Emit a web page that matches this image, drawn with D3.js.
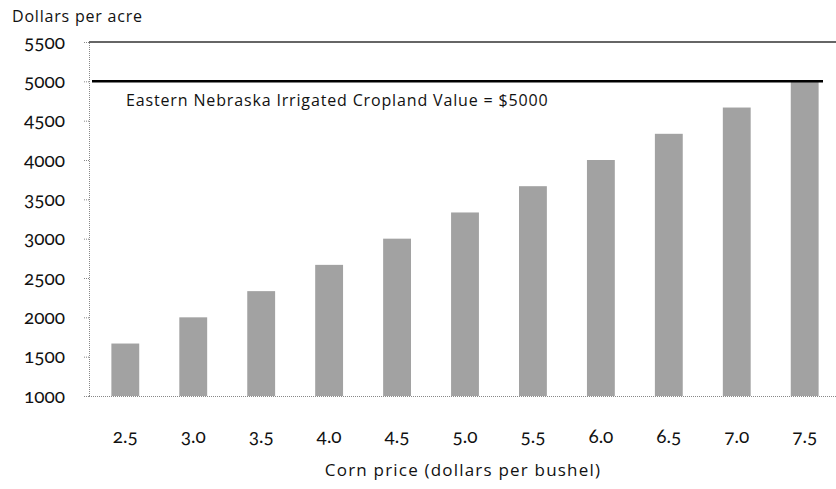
<!DOCTYPE html>
<html>
<head>
<meta charset="utf-8">
<script src="https://cdn.jsdelivr.net/npm/d3@7"></script>
<style>
  body { margin: 0; background: #fff; }
  svg text { font-family: "Open Sans", Lato, sans-serif; fill: #111; }
  svg .tick text { font-family: Lato, "Open Sans", sans-serif; font-feature-settings: "onum"; }
</style>
</head>
<body>
<div id="chart"></div>
<script>
// corn price categories and land value
const prices = ['2.5', '3.0', '3.5', '4.0', '4.5', '5.0', '5.5', '6.0', '6.5', '7.0', '7.5'];
const landValues = [1667, 2000, 2333, 2667, 3000, 3333, 3667, 4000, 4333, 4667, 5000];
const yTicks = [1000, 1500, 2000, 2500, 3000, 3500, 4000, 4500, 5000, 5500];
const referenceValue = 5000;
const referenceLabel = 'Eastern Nebraska Irrigated Cropland Value = $5000';

const width = 836, height = 489;
const svg = d3.select('#chart').append('svg')
    .attr('width', width)
    .attr('height', height);

const x = d3.scaleBand()
    .domain(prices)
    .range([91, 839])
    .paddingInner(0.59)
    .paddingOuter(0.3);

const y = d3.scaleLinear()
    .domain([1000, 5500])
    .range([396, 42]);

// bars
svg.append('g')
    .selectAll('rect')
    .data(landValues)
    .join('rect')
    .attr('x', (d, i) => x(prices[i]))
    .attr('y', d => y(d))
    .attr('width', x.bandwidth())
    .attr('height', d => y(1000) - y(d))
    .attr('fill', '#a2a2a2');

// left axis, dotted
const yAxis = svg.append('g')
    .attr('transform', 'translate(89,0)')
    .call(d3.axisLeft(y).tickValues(yTicks).tickFormat(d3.format('d')).tickSize(5).tickPadding(19));
yAxis.select('.domain').attr('stroke', '#888').attr('stroke-dasharray', '1,1');
yAxis.selectAll('.tick line').attr('stroke', '#888').attr('stroke-dasharray', '1,1');
yAxis.selectAll('.tick text').style('font-size', '19px').attr('fill', '#111');

// bottom baseline
const xAxis = svg.append('g')
    .attr('transform', 'translate(0,396)')
    .call(d3.axisBottom(x).tickSize(0));
xAxis.select('.domain').attr('d', 'M89,0.5H836').attr('stroke', '#888').attr('stroke-dasharray', '1,1');
xAxis.selectAll('.tick text')
    .attr('y', 47).attr('dy', 0)
    .style('font-size', '19px').attr('fill', '#111');

// top gridline at 5500
svg.append('line')
    .attr('x1', 89).attr('x2', 836)
    .attr('y1', y(5500)).attr('y2', y(5500))
    .attr('stroke', '#333').attr('stroke-width', 1.5);

// reference line at 5000
svg.append('line')
    .attr('x1', 92).attr('x2', 823)
    .attr('y1', y(referenceValue)).attr('y2', y(referenceValue))
    .attr('stroke', '#000').attr('stroke-width', 2.5);

svg.append('text')
    .attr('x', 126)
    .attr('y', y(referenceValue) + 25)
    .style('font-size', '16px')
    .style('letter-spacing', '0.85px')
    .text(referenceLabel);

svg.append('text')
    .attr('x', 12)
    .attr('y', 22)
    .style('font-size', '16px')
    .style('letter-spacing', '0.8px')
    .text('Dollars per acre');

svg.append('text')
    .attr('x', 463)
    .attr('y', 476)
    .attr('text-anchor', 'middle')
    .style('font-size', '17px')
    .style('letter-spacing', '1.2px')
    .text('Corn price (dollars per bushel)');
</script>
</body>
</html>
